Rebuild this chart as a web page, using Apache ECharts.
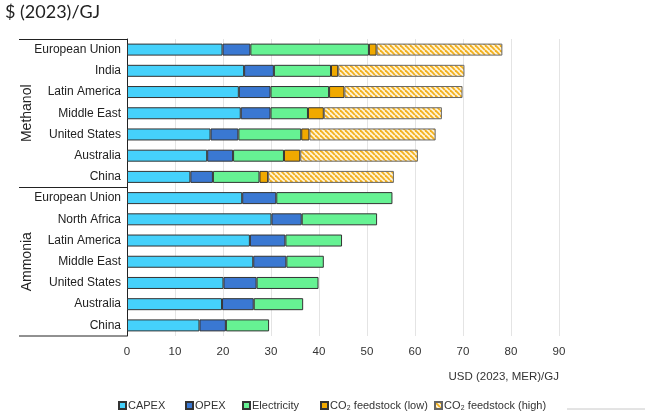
<!DOCTYPE html>
<html>
<head>
<meta charset="utf-8">
<script src="https://cdn.jsdelivr.net/npm/echarts@6/dist/echarts.min.js"></script>
<style>
  html, body { margin: 0; padding: 0; background: #fff; }
  #chart { width: 645px; height: 412px; }
</style>
</head>
<body>
<div id="chart"></div>
<script>
// Levelised cost breakdown of e-methanol and e-ammonia by region
const groups = ['Methanol', 'Ammonia'];
const methanolRegions = ['European Union', 'India', 'Latin America', 'Middle East', 'United States', 'Australia', 'China'];
const ammoniaRegions = ['European Union', 'North Africa', 'Latin America', 'Middle East', 'United States', 'Australia', 'China'];

const capexM   = [19.9, 24.4, 23.3, 23.7, 17.4, 16.7, 13.2];
const opexM    = [5.8, 6.2, 6.6, 6.2, 5.8, 5.4, 4.7];
const elecM    = [24.7, 11.9, 12.2, 7.8, 13.1, 10.6, 9.7];
const co2LowM  = [1.6, 1.5, 3.2, 3.3, 1.7, 3.4, 1.8];
const co2HighM = [26.2, 26.3, 24.6, 24.6, 26.3, 24.5, 26.2];

const capexA = [24.0, 30.1, 25.6, 26.3, 20.1, 19.8, 15.1];
const opexA  = [7.1, 6.3, 7.4, 6.9, 6.9, 6.6, 5.5];
const elecA  = [24.2, 15.7, 11.8, 7.8, 12.9, 10.3, 9.0];

const xTicks = [0, 10, 20, 30, 40, 50, 60, 70, 80, 90];
const seriesNames = ['CAPEX', 'OPEX', 'Electricity', 'CO₂ feedstock (low)', 'CO₂ feedstock (high)'];

// category keys carry the group so duplicate region names stay distinct
const categories = methanolRegions.map(r => 'M|' + r).concat(ammoniaRegions.map(r => 'A|' + r));
const none = ammoniaRegions.map(() => '-');

const sans = '"Liberation Sans", Arial, sans-serif';

// hatched fill for the high CO2 feedstock cost
function hatch() {
  const c = document.createElement('canvas');
  c.width = 5; c.height = 5;
  const g = c.getContext('2d');
  g.fillStyle = '#fff3d6';
  g.fillRect(0, 0, 5, 5);
  g.strokeStyle = '#f2b01e';
  g.lineWidth = 1.8;
  for (let k = -5; k <= 10; k += 5) {
    g.beginPath();
    g.moveTo(k, 0);
    g.lineTo(k + 5, 5);
    g.stroke();
  }
  return c;
}

const colors = ['#45d1fb', '#3a78d2', '#66f293', '#f0a900'];
const grid = { left: 127, right: 86, top: 39, bottom: 76 };

function barSeries(name, data, color, border) {
  return {
    name: name,
    type: 'bar',
    stack: 'cost',
    barWidth: 12,
    data: data,
    itemStyle: { color: color, borderColor: border || '#333', borderWidth: 1 },
    emphasis: { disabled: true }
  };
}

const series = [
  barSeries(seriesNames[0], capexM.concat(capexA), colors[0]),
  barSeries(seriesNames[1], opexM.concat(opexA), colors[1]),
  barSeries(seriesNames[2], elecM.concat(elecA), colors[2]),
  barSeries(seriesNames[3], co2LowM.concat(none), colors[3]),
  barSeries(seriesNames[4], co2HighM.concat(none), { image: hatch(), repeat: 'repeat' }, '#666')
];

const legendLeft = [113, 180, 237, 315, 429];
const legends = seriesNames.map((n, i) => ({
  data: [n],
  left: legendLeft[i],
  top: 395,
  itemWidth: 7,
  itemHeight: 7,
  itemGap: 2,
  icon: 'rect',
  selectedMode: false,
  textStyle: { fontFamily: sans, fontSize: 11, color: '#333', padding: [0, 0, 0, -3] }
}));

const chart = echarts.init(document.getElementById('chart'), null, { renderer: 'canvas' });

const catH = (412 - grid.top - grid.bottom) / categories.length;
const yMid = (i0, i1) => grid.top + catH * (i0 + i1) / 2;

chart.setOption({
  animation: false,
  backgroundColor: '#fff',
  grid: grid,
  legend: legends,
  xAxis: {
    type: 'value',
    min: xTicks[0],
    max: xTicks[xTicks.length - 1],
    interval: 10,
    axisLine: { show: false },
    axisTick: { show: false },
    splitLine: { lineStyle: { color: '#e4e4e4', width: 1 } },
    axisLabel: { margin: 10, color: '#333', fontFamily: sans, fontSize: 11.5 }
  },
  yAxis: {
    type: 'category',
    inverse: true,
    data: categories,
    axisLine: { lineStyle: { color: '#222', width: 1 } },
    axisTick: { show: false },
    axisLabel: {
      margin: 6,
      color: '#222',
      fontFamily: sans,
      fontSize: 12,
      formatter: v => v.split('|')[1]
    }
  },
  graphic: [
    { type: 'text', left: 5, top: 3, style: { text: '$ (2023)/GJ', font: '18px Lato', fill: '#222' } },
    { type: 'text', right: 86, top: 371, style: { text: 'USD (2023, MER)/GJ', font: '11.5px ' + sans, fill: '#333', textAlign: 'right' } },
    { type: 'line', shape: { x1: 19, y1: grid.top + 0.5, x2: 127, y2: grid.top + 0.5 }, style: { stroke: '#222', lineWidth: 1 } },
    { type: 'line', shape: { x1: 19, y1: yMid(7, 7), x2: 127, y2: yMid(7, 7) }, style: { stroke: '#222', lineWidth: 1 } },
    { type: 'line', shape: { x1: 19, y1: 412 - grid.bottom, x2: 127, y2: 412 - grid.bottom }, style: { stroke: '#222', lineWidth: 1 } },
    { type: 'line', shape: { x1: 567, y1: 409, x2: 645, y2: 409 }, style: { stroke: '#c8c8c8', lineWidth: 1 } },
    {
      type: 'text', x: 27, y: yMid(0, 7), rotation: Math.PI / 2,
      style: { text: groups[0], font: '14px ' + sans, fill: '#222', textAlign: 'center', textVerticalAlign: 'middle' }
    },
    {
      type: 'text', x: 27, y: yMid(7, 14), rotation: Math.PI / 2,
      style: { text: groups[1], font: '14px ' + sans, fill: '#222', textAlign: 'center', textVerticalAlign: 'middle' }
    }
  ],
  series: series
});
</script>
</body>
</html>
